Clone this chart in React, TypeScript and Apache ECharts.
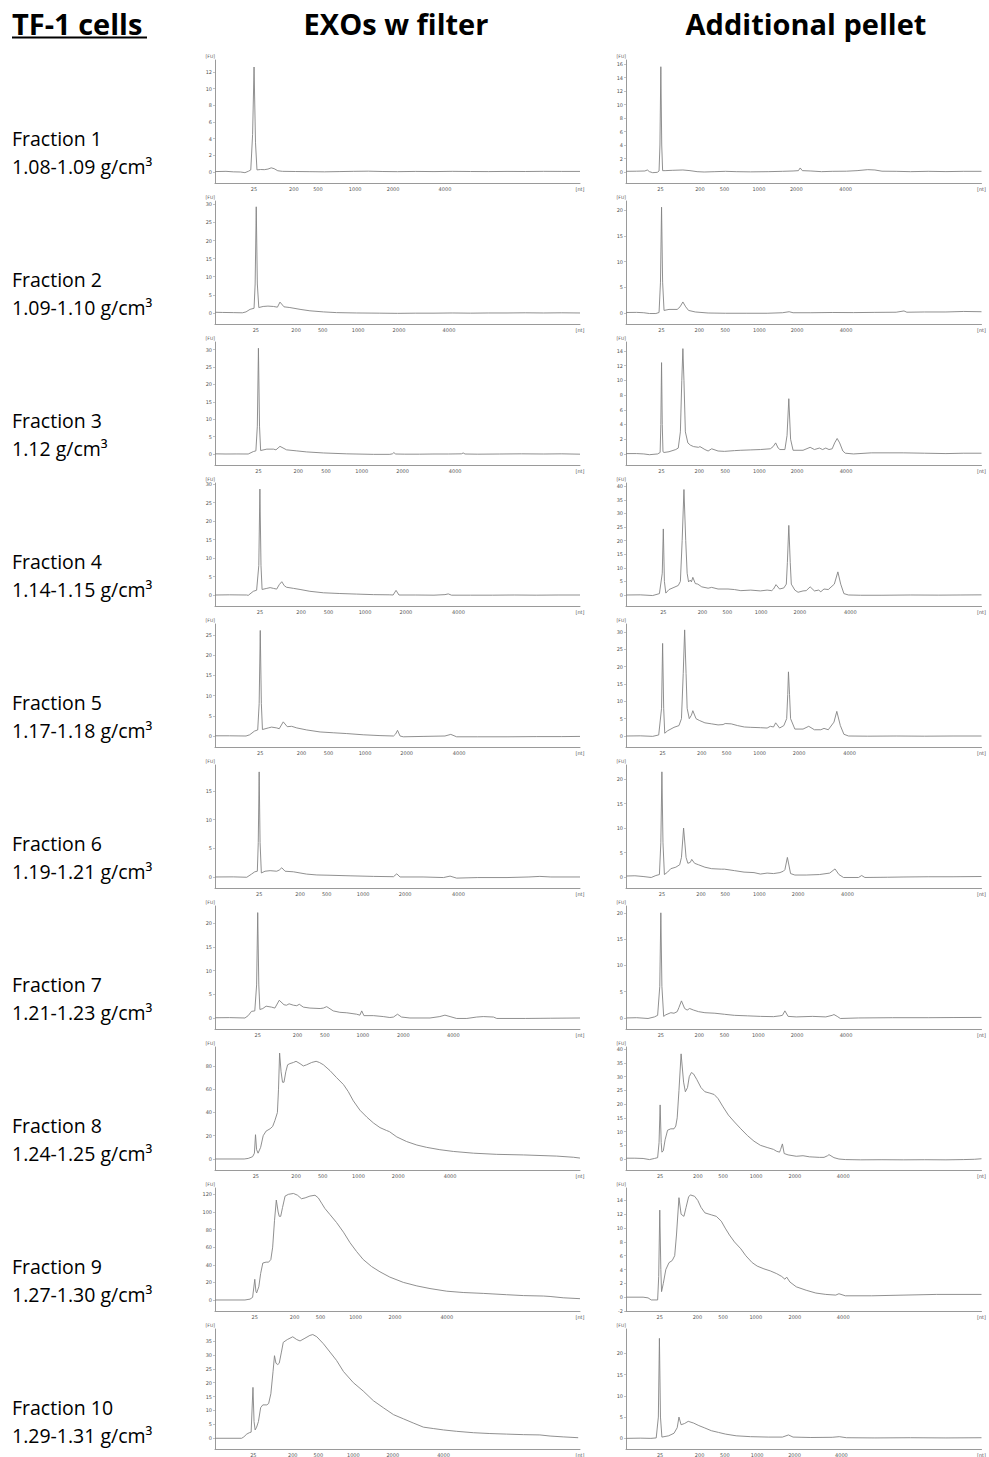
import React, { useEffect, useRef } from "react";
import * as echarts from "echarts";

// ---------- labels ----------
const ladderLabels = ["25", "200", "500", "1000", "2000", "4000", "[nt]"];
const fractionNames = ["Fraction 1", "Fraction 2", "Fraction 3", "Fraction 4", "Fraction 5", "Fraction 6", "Fraction 7", "Fraction 8", "Fraction 9", "Fraction 10"];
const densities = ["1.08-1.09 g/cm³", "1.09-1.10 g/cm³", "1.12 g/cm³", "1.14-1.15 g/cm³", "1.17-1.18 g/cm³", "1.19-1.21 g/cm³", "1.21-1.23 g/cm³", "1.24-1.25 g/cm³", "1.27-1.30 g/cm³", "1.29-1.31 g/cm³"];
const headers = ["TF-1 cells", "EXOs w filter", "Additional pellet"];

// ladder (size marker) positions on the time axis (0..100) per row
const exoLadder = [
  [10.7, 21.6, 28.2, 38.4, 48.8, 63.0],
  [11.2, 22.2, 29.5, 39.2, 50.4, 64.1],
  [11.9, 22.8, 30.4, 40.2, 51.4, 65.8],
  [12.3, 23.6, 31.1, 41.1, 52.3, 66.7],
  [12.4, 23.7, 31.1, 41.1, 52.5, 66.9],
  [12.1, 23.3, 30.6, 40.6, 52.1, 66.7],
  [11.7, 22.6, 30.1, 40.5, 51.6, 65.3],
  [11.2, 22.2, 29.5, 39.3, 50.2, 64.4],
  [10.9, 21.8, 28.9, 38.5, 49.3, 63.5],
  [10.5, 21.3, 28.3, 37.9, 48.7, 62.6],
];
const pelLadder = [
  [9.7, 20.8, 27.7, 37.4, 47.9, 61.8],
  [10.0, 20.6, 27.9, 37.5, 48.1, 61.9],
  [10.0, 20.6, 27.9, 37.5, 48.1, 61.9],
  [10.5, 21.5, 28.5, 38.0, 48.9, 63.1],
  [10.3, 21.3, 28.3, 37.6, 48.7, 62.9],
  [10.1, 21.1, 27.9, 37.5, 48.4, 62.3],
  [9.8, 20.6, 27.7, 37.2, 48.1, 61.9],
  [9.6, 20.2, 27.3, 36.6, 47.5, 61.1],
  [9.5, 20.1, 27.3, 36.5, 47.5, 61.1],
  [9.6, 20.7, 27.8, 36.9, 47.4, 60.6],
];

// y axis ranges / ticks
const exoYMin = [-1.32, -3.04, -3.16, -2.98, -2.72, -1.92, -2.33, -9.46, -12.5, -3.86];
const exoYMax = [13.44, 30.9, 32.2, 30.35, 27.7, 19.5, 23.7, 96.3, 127.2, 39.3];
const exoYStep = [2, 5, 5, 5, 5, 5, 5, 20, 20, 5];
const exoYTop = [12, 30, 30, 30, 25, 15, 20, 80, 120, 35];
const exoYStart = [0, 0, 0, 0, 0, 0, 0, 0, 0, 0];
const pelYMin = [-1.63, -2.14, -1.5, -4.05, -3.17, -2.25, -2.1, -4.0, -2.0, -2.5];
const pelYMax = [16.6, 21.8, 15.2, 41.2, 32.3, 22.9, 21.3, 40.8, 15.8, 25.7];
const pelYStep = [2, 5, 2, 5, 5, 5, 5, 5, 2, 5];
const pelYTop = [16, 20, 14, 40, 30, 20, 20, 40, 14, 20];
const pelYStart = [0, 0, 0, 0, 0, 0, 0, 0, -2, 0];

// ---------- traces: [time, FU] ----------
const exo1 = [[0,0.05],[3,0.08],[5,0.02],[7,0.0],[8.2,-0.08],[9.2,0.1],[9.8,0.25],[10.3,4.5],[10.7,12.6],[11.1,3.5],[11.5,0.25],[12.5,0.3],[13.5,0.28],[14.5,0.35],[15.4,0.5],[16.2,0.4],[17.2,0.15],[18.5,0.08],[22,0.06],[26,0.04],[30,0.02],[34,0.05],[38,0.08],[42,0.1],[46,0.06],[50,0.04],[55,0.07],[60,0.05],[65,0.08],[70,0.06],[75,0.05],[80,0.07],[85,0.06],[90,0.08],[95,0.07],[100,0.07]];
const exo2 = [[0,0.2],[2,0.15],[5,0.1],[7.5,0.05],[8.5,0.3],[9.6,1.0],[10.7,1.3],[11.0,8],[11.3,29.3],[11.6,8],[12.0,1.5],[13.2,1.8],[14.5,1.9],[16.0,1.8],[17.1,1.6],[17.8,3.0],[18.9,1.7],[20.5,1.5],[23.3,1.0],[26.0,0.6],[29.7,0.3],[33.3,0.1],[38.8,0.0],[45,-0.05],[50,-0.1],[55,-0.05],[60,-0.05],[65,0.0],[70,-0.05],[75,0.0],[80,0.0],[85,0.05],[90,0.0],[95,0.05],[100,0.0]];
const exo3 = [[0,0.05],[3,0.0],[6,0.02],[9.1,0.0],[10.5,0.7],[11.2,0.9],[11.6,8],[11.9,30.4],[12.2,8],[12.5,1.0],[14.2,1.4],[16.0,1.4],[16.7,1.2],[17.8,2.2],[19.6,1.2],[22.4,0.9],[25.1,0.6],[29.7,0.3],[36.1,0.05],[43.4,-0.1],[47.9,-0.1],[48.6,0.05],[49.0,0.4],[49.5,0.0],[52,-0.05],[56,-0.05],[60,0.0],[64,0.0],[67.5,0.05],[68,0.3],[68.5,0.0],[72,-0.05],[78,0.0],[84,0.05],[90,0.0],[95,0.05],[100,-0.05]];
const exo4 = [[0,0.0],[4,0.05],[8.7,0.0],[9.1,-0.1],[10.5,1.0],[11.4,1.3],[12.0,8],[12.3,28.7],[12.6,8],[12.9,1.5],[14.2,1.8],[15.1,2.0],[16.0,1.8],[16.9,1.6],[17.6,2.8],[18.3,3.6],[19.0,2.5],[19.6,2.1],[21.5,1.8],[23.3,1.5],[26.0,1.0],[29.7,0.6],[34.2,0.4],[38.8,0.25],[43.4,0.1],[47.9,0.05],[48.8,0.0],[49.6,1.25],[50.4,0.0],[55,0.0],[60,-0.05],[63,0.1],[63.9,0.3],[64.8,-0.05],[70,-0.05],[76,-0.05],[82,0.0],[88,-0.05],[94,0.0],[100,0.0]];
const exo5 = [[0,0.05],[4,0.05],[8.5,0.0],[9.5,0.3],[10.8,1.2],[11.7,1.5],[12.1,8],[12.4,26.1],[12.7,8],[13.0,1.6],[14.6,2.0],[15.5,2.2],[16.9,2.0],[17.6,1.8],[18.7,3.5],[19.8,2.3],[21.0,2.4],[22.4,2.0],[25.1,1.5],[28.8,1.0],[32.4,0.8],[36.1,0.6],[40.6,0.3],[45.2,0.1],[48.9,0.0],[49.5,0.5],[50.0,1.4],[50.7,0.0],[51.6,-0.2],[57,-0.1],[63,0.0],[64.6,0.4],[66.2,-0.2],[72,-0.2],[80,-0.2],[88,-0.15],[95,-0.15],[100,-0.1]];
const exo6 = [[0,0.0],[5,0.02],[8.7,-0.05],[10.0,0.5],[10.9,0.9],[11.6,1.0],[11.85,6],[12.1,18.3],[12.35,6],[12.7,0.7],[13.7,1.0],[15.1,1.1],[16.9,1.0],[17.6,1.2],[18.3,1.6],[19.2,1.0],[21.5,0.9],[23.3,0.7],[25.1,0.5],[27.9,0.35],[31.5,0.3],[37,0.2],[43.4,0.1],[48.9,0.05],[49.8,0.55],[50.7,0.0],[57,0.0],[62.6,-0.1],[64.4,0.15],[66.2,-0.2],[72,-0.1],[80,-0.1],[86,0.0],[89,0.1],[92,0.0],[100,0.0]];
const exo7 = [[0,0.05],[4,0.08],[8.2,0.0],[9.1,0.5],[10.0,1.4],[10.9,1.5],[11.4,7],[11.7,22.3],[12.0,7],[12.3,1.8],[13.1,2.0],[14.0,2.5],[15.5,2.3],[16.4,2.1],[17.6,3.75],[18.9,2.8],[19.6,2.7],[20.3,3.0],[21.5,2.7],[22.4,2.6],[23.1,2.9],[24.2,2.3],[26.0,2.1],[28.8,2.0],[29.7,2.1],[30.6,2.4],[32.4,1.5],[34.2,1.2],[36.1,1.1],[38.8,0.8],[39.7,0.6],[40.2,1.5],[40.8,0.5],[43.4,0.5],[46.1,0.3],[47.9,0.1],[48.9,0.2],[50.0,0.8],[51.1,0.2],[53.4,0.0],[58.9,0.0],[61.6,0.3],[63.0,0.6],[64.4,0.3],[66.2,-0.1],[69,-0.1],[71.7,0.2],[73.5,0.3],[76.3,0.2],[77.2,-0.1],[85,-0.1],[92,-0.05],[100,0.0]];
const exo8 = [[0,0.0],[8,0.0],[9.1,0.5],[10.3,2],[10.8,5],[11.1,20.9],[11.4,8],[11.8,5],[12.5,10],[13.2,20],[14.0,24],[15.1,26],[15.8,28],[16.4,33],[17.1,40],[17.4,60],[17.7,91.1],[18.1,75],[18.5,66],[18.9,66],[19.4,75],[19.9,81],[20.5,82],[21.5,83],[22.2,84],[23.3,82],[24.2,80],[25.1,81],[26.5,83],[27.7,84],[28.6,83],[29.7,81],[31.5,76],[33.3,70],[35.2,64],[36.5,58],[37.9,50],[39.7,42],[41.6,36],[43.4,31],[45.2,27],[47.0,24.5],[47.8,23.5],[49.8,19],[52.5,15],[55.3,12],[58.0,10],[61.6,8],[65.3,6.5],[70.8,5],[77.2,4],[84.5,3.5],[93.6,2.5],[98.2,1.5],[100,0.8]];
const exo9 = [[0,0.0],[8.2,0.0],[9.6,1],[10.3,3],[10.9,23.5],[11.2,10],[11.4,8],[12.0,15],[12.5,30],[13.1,42],[14.0,43],[14.7,43],[15.3,46],[15.8,60],[16.3,90],[16.8,113.5],[17.3,100],[17.6,95],[18.0,95],[18.5,105],[19.2,118],[20.1,120],[21.5,121],[22.6,119],[23.7,115],[24.7,116],[26.0,118],[27.4,119],[28.3,116],[29.2,110],[30.1,104],[31.5,97],[33.3,88],[35.2,77],[37.0,65],[38.8,55],[40.6,46],[42.9,38],[45.2,32],[47.9,26],[51.6,20],[55.3,16],[58.9,13],[63.5,10],[68.0,8.5],[73.5,7.5],[79.9,6],[84.5,5],[90.0,4.5],[91.8,4],[95.4,2.5],[100,1.5]];
const exo10 = [[0,0.0],[7.3,0.0],[7.9,0.5],[8.7,1.5],[9.4,2],[9.9,2.2],[10.4,18.3],[10.7,6],[11.0,3],[11.4,4],[11.9,6],[12.5,11],[13.1,12],[14.2,12],[14.7,12.5],[15.3,16],[15.9,24],[16.3,29.7],[16.7,27],[17.2,26.5],[17.6,27],[18.2,31],[18.7,34.5],[19.8,35.5],[21.3,36.5],[22.4,35.5],[23.3,35],[24.4,35.8],[26.0,37],[26.8,37.3],[27.9,36.5],[29.7,34],[31.5,31],[33.3,28],[35.2,24],[37.9,20],[40.6,17],[43.4,13.5],[46.1,11],[48.9,8.5],[51.6,7],[54.3,5.5],[57.1,4],[59.8,3.5],[62.6,3],[66.2,2.5],[70.8,2.0],[75.3,1.7],[79.9,1.5],[84.5,1.3],[89.0,1.2],[91.8,0.8],[95.4,0.5],[99.5,0.2]];

const pel1 = [[0,0.1],[3,0.12],[5.3,0.15],[6,0.3],[6.6,0.05],[7.5,-0.1],[8.8,-0.05],[9.3,0.15],[9.55,4],[9.8,15.6],[10.05,4],[10.3,0.2],[11,0.2],[13,0.25],[16,0.3],[18,0.2],[20,0.05],[22,0.0],[25,0.05],[28,0.1],[31,0.05],[35,0.02],[40,0.05],[44,0.1],[47,0.15],[48.5,0.2],[49,0.6],[49.6,0.2],[52,0.15],[55,0.05],[58,0.1],[62,0.12],[65,0.2],[68,0.35],[70,0.3],[72,0.12],[76,0.1],[80,0.05],[85,0.1],[90,0.06],[95,0.1],[100,0.1]];
const pel2 = [[0,0.1],[3,0.12],[5,0.05],[6.6,-0.1],[8.4,-0.1],[9.3,0.1],[9.7,6],[10.0,20.6],[10.3,6],[10.7,0.5],[12.1,0.7],[14.4,0.7],[15.2,1.2],[16.0,2.15],[16.8,1.2],[17.6,0.5],[19.5,0.2],[23.1,0.0],[28,-0.05],[34,-0.05],[39.7,-0.05],[44,0.05],[45.9,0.25],[47,0.05],[52,0.05],[58,0.1],[64,0.08],[70,0.12],[76,0.15],[78.2,0.4],[79,0.15],[84,0.2],[90,0.2],[95,0.3],[100,0.25]];
const pel3 = [[0,0.05],[3,0.05],[5,0.0],[6.6,-0.1],[8.9,0.0],[9.6,0.2],[9.8,4],[10.0,12.4],[10.2,4],[10.4,0.3],[10.7,0.2],[12.1,0.3],[14.0,0.6],[14.7,0.8],[15.3,3],[15.7,10],[16.0,14.3],[16.3,10],[16.7,3],[17.4,1.5],[18.1,1.2],[19.0,1.0],[20.4,0.9],[20.8,1.0],[22.2,0.6],[23.1,0.4],[24.1,0.7],[25.9,0.4],[27.7,0.35],[30.5,0.45],[32.3,0.5],[35.1,0.55],[37.8,0.6],[40.6,0.7],[41.4,1.0],[42.1,1.5],[42.8,0.8],[43.3,0.6],[44.7,0.6],[45.3,2.5],[45.8,7.5],[46.3,2.0],[47.0,0.5],[49.8,0.5],[51.8,0.9],[53.0,0.6],[54.4,0.8],[55.3,0.6],[56.2,0.8],[57.1,0.6],[58.0,0.7],[58.7,1.5],[59.4,2.1],[60.1,1.5],[61.0,0.4],[61.7,0.1],[64,0.0],[69,0.15],[74,0.15],[78,0.15],[84,0.1],[90,0.05],[95,0.1],[100,0.1]];
const pel4 = [[0,0.0],[4,0.05],[7.5,-0.2],[9.4,0.5],[10.2,8],[10.5,24.3],[10.8,5],[11.2,0.7],[12.1,2],[13.5,2.8],[14.7,3.5],[15.3,5],[15.8,20],[16.3,38.8],[16.8,20],[17.2,8],[17.6,4.8],[18.1,5.5],[18.4,4.8],[18.8,6.5],[19.5,4.2],[20.2,4],[21.3,3],[23.1,2.5],[24.1,2.8],[25.9,2.2],[28.7,2.2],[30.5,2.0],[32.3,1.6],[35.1,1.8],[37.8,1.5],[39.7,1.8],[41.0,1.6],[41.5,2.2],[42.2,3.8],[43.2,2.2],[44.4,2.6],[45.1,4],[45.4,12],[45.8,25.6],[46.2,12],[46.5,4],[47.5,1.8],[48.4,1.0],[49.8,1.5],[50.7,1.6],[51.8,3.0],[53.0,1.5],[54.2,1.8],[54.8,1.2],[55.7,2.2],[56.9,2.0],[58.6,4],[59.6,8.5],[60.4,4],[61.3,0.5],[62.6,0.0],[66,-0.1],[72,-0.1],[80,0.0],[88,-0.05],[94,0.0],[100,0.05]];
const pel5 = [[0,0.0],[4,0.05],[7.5,-0.1],[9.2,0.3],[10.0,8],[10.3,26.7],[10.6,8],[10.9,0.8],[11.7,1.5],[13.5,2.5],[14.9,3],[15.6,5],[16.1,18],[16.5,30.6],[16.9,18],[17.2,8],[17.8,5],[18.4,6],[18.8,7.3],[19.7,5],[20.6,4.5],[22.2,3.8],[24.1,3.5],[25.9,3.2],[27.3,3.3],[27.9,3.6],[29.6,3.5],[31.4,3.0],[33.3,2.6],[35.1,2.5],[37.8,2.4],[39.7,2.3],[40.6,2.8],[41.5,2.6],[42.1,3.8],[43.2,2.3],[44.4,3.0],[45.2,5],[45.5,12],[45.7,18.5],[46.0,12],[46.3,5],[47.5,2.0],[49.8,2.0],[51.4,2.8],[53.0,1.8],[54.8,1.8],[55.7,2.2],[56.9,1.8],[58.5,4],[59.3,7.1],[60.3,3],[61.3,0.5],[62.6,0.0],[68,-0.05],[76,0.0],[84,-0.05],[92,0.0],[100,0.0]];
const pel6 = [[0,0.2],[2.5,0.25],[4.8,0.1],[7.1,-0.1],[8.4,0.3],[9.4,0.5],[9.8,7],[10.1,21.5],[10.4,7],[10.8,0.5],[11.7,1.0],[12.6,1.7],[14.0,2.0],[15.1,2.5],[15.6,4],[16.2,10.0],[16.9,4],[17.4,2.8],[18.1,3.0],[18.5,3.6],[19.3,2.8],[20.4,2.5],[22.2,2.0],[24.1,1.7],[26.8,1.6],[27.7,1.6],[30.5,1.3],[33.2,1.0],[36.0,0.9],[37.8,0.6],[39.7,0.8],[41.5,0.7],[43.3,0.9],[44.3,1.2],[44.7,1.5],[45.4,4.0],[46.3,0.7],[47.5,0.4],[50.7,0.4],[54.4,0.5],[57.3,0.8],[58.8,1.65],[59.9,0.5],[61.2,-0.1],[65.4,-0.1],[66.3,0.3],[67.2,-0.1],[73.6,-0.05],[78.2,0.0],[85,0.05],[92,0.05],[100,0.1]];
const pel7 = [[0,0.0],[3,0.05],[6.2,-0.1],[8.0,0.2],[8.9,0.5],[9.5,6],[9.8,20.0],[10.1,6],[10.6,0.3],[11.2,0.6],[12.6,1.0],[13.5,0.9],[14.4,1.2],[14.9,2],[15.6,3.25],[16.5,1.8],[17.2,1.5],[17.9,1.8],[19.0,1.5],[20.4,1.2],[22.2,1.0],[25.0,0.9],[27.7,0.7],[30.5,0.5],[34.2,0.4],[37.8,0.3],[41.5,0.25],[43.3,0.4],[44.0,0.5],[44.7,1.35],[45.6,0.3],[47.9,0.2],[52.5,0.3],[56.2,0.2],[58.0,0.5],[58.5,0.65],[59.4,0.3],[60.3,-0.1],[65.4,0.0],[75,0.05],[85,0.05],[92,0.08],[100,0.1]];
const pel8 = [[0,0.3],[2.5,0.3],[4.8,0.2],[6.6,-0.2],[8.0,0.2],[8.9,0.5],[9.3,6],[9.6,19.7],[9.9,6],[10.1,2.5],[10.5,3],[11.0,7],[11.7,10.5],[12.6,11],[13.5,11],[14.0,12],[14.4,15],[14.9,25],[15.5,38.3],[16.2,28],[16.7,24.5],[17.3,26],[17.8,30],[18.4,31.5],[19.0,31],[19.9,29],[21.1,26],[22.2,24.5],[23.6,24],[24.8,23.5],[25.9,22],[27.3,19],[28.8,16],[30.5,13.5],[32.3,11],[34.2,8.5],[36.0,6.5],[37.8,5],[39.7,4.2],[41.5,3.5],[42.4,2.8],[43.2,2.5],[43.5,3.5],[44.0,5.5],[44.5,2],[45.6,1.5],[47.9,1.0],[49.8,1.2],[51.6,0.8],[54.4,0.6],[55.7,0.6],[56.7,1.2],[57.1,1.6],[58.5,0.5],[59.9,0.0],[61.7,-0.2],[66,-0.3],[72,-0.25],[78,-0.3],[84,-0.25],[90,-0.3],[95,-0.2],[98,-0.1],[100,0.1]];
const pel9 = [[0,0.0],[4.8,0.0],[6.2,-0.1],[7.1,-0.4],[8.9,-0.4],[9.2,3],[9.5,12.6],[9.8,4],[10.0,0.8],[10.5,2],[11.2,4],[12.1,5],[13.0,5.3],[13.7,6],[14.2,9],[14.9,14.4],[15.5,12],[16.3,11.7],[16.9,13],[17.6,14.5],[18.1,14.8],[19.3,14.6],[20.2,14],[21.1,13],[22.2,12.2],[24.1,11.9],[25.4,11.7],[26.8,11],[27.9,10],[29.1,9],[30.5,8],[32.3,7],[33.7,6],[35.5,5],[36.9,4.5],[38.8,4.1],[40.6,3.8],[42.4,3.4],[43.8,3.0],[44.7,2.6],[45.2,2.9],[46.1,2.2],[47.9,1.5],[50.7,1.0],[53.4,0.6],[56.2,0.4],[59.0,0.3],[59.9,0.5],[61.7,0.2],[69.1,0.2],[78.2,0.3],[87.4,0.4],[100,0.4]];
const pel10 = [[0,0.0],[4,0.05],[7,0.0],[8.5,0.1],[9.1,5],[9.4,23.5],[9.7,5],[10.1,0.3],[12,0.6],[13.5,1.2],[14.4,2.5],[14.9,5],[15.5,3.2],[16.5,3.5],[17.5,4],[19,3.6],[20.5,3],[22,2.5],[24,1.8],[26,1.4],[28,1.0],[31,0.6],[35,0.4],[40,0.3],[44,0.3],[45.7,0.8],[47,0.3],[52,0.2],[58,0.25],[60,0.4],[62,0.15],[70,0.1],[80,0.15],[90,0.1],[100,0.15]];

const exoTraces = [exo1, exo2, exo3, exo4, exo5, exo6, exo7, exo8, exo9, exo10];
const pelTraces = [pel1, pel2, pel3, pel4, pel5, pel6, pel7, pel8, pel9, pel10];

// ---------- layout ----------
const W = 989;
const H = 1457;
const ROW_H = 141;
const PLOT_TOP = 60;
const PLOT_H = 123;
const COLS = [
  { left: 215, width: 365 },
  { left: 626, width: 363 },
];
const FONT = '"Open Sans", "Noto Sans", sans-serif';
const AXIS_COLOR = "#9a9a9a";
const LABEL_COLOR = "#555";
const TRACE_COLOR = "#838383";

function ticks(start: number, step: number, top: number) {
  const out: number[] = [];
  for (let v = start; v <= top + 1e-9; v += step) out.push(Math.round(v * 1000) / 1000);
  return out;
}

function buildOption() {
  const grid: any[] = [];
  const xAxis: any[] = [];
  const yAxis: any[] = [];
  const series: any[] = [];
  let idx = 0;
  for (let r = 0; r < 10; r++) {
    for (let c = 0; c < 2; c++) {
      const col = COLS[c];
      const ladder = (c === 0 ? exoLadder : pelLadder)[r];
      const xVals = [...ladder, 100];
      const yMin = (c === 0 ? exoYMin : pelYMin)[r];
      const yMax = (c === 0 ? exoYMax : pelYMax)[r];
      const yT = c === 0
        ? ticks(exoYStart[r], exoYStep[r], exoYTop[r])
        : ticks(pelYStart[r], pelYStep[r], pelYTop[r]);
      const trace = (c === 0 ? exoTraces : pelTraces)[r];
      grid.push({ left: col.left, top: PLOT_TOP + r * ROW_H, width: col.width, height: PLOT_H, containLabel: false });
      xAxis.push({
        gridIndex: idx,
        type: "value",
        min: 0,
        max: 100,
        position: "bottom",
        axisLine: { show: true, onZero: false, lineStyle: { color: AXIS_COLOR, width: 1 } },
        axisTick: { show: false },
        axisLabel: {
          show: true,
          customValues: xVals,
          fontSize: 5,
          color: LABEL_COLOR,
          margin: 3,
          fontFamily: "DejaVu Sans",
          formatter: (v: number) => {
            let best = 0;
            let bd = 1e9;
            xVals.forEach((p, i) => {
              const d = Math.abs(p - v);
              if (d < bd) { bd = d; best = i; }
            });
            return ladderLabels[best];
          },
        },
        splitLine: { show: false },
      });
      yAxis.push({
        gridIndex: idx,
        type: "value",
        min: yMin,
        max: yMax,
        name: "[FU]",
        nameLocation: "end",
        nameGap: 1,
        nameTextStyle: { fontSize: 4.5, color: LABEL_COLOR, align: "right", verticalAlign: "bottom", fontFamily: "DejaVu Sans" },
        axisLine: { show: true, onZero: false, lineStyle: { color: AXIS_COLOR, width: 1 } },
        axisTick: { show: true, customValues: yT, length: 2, lineStyle: { color: AXIS_COLOR, width: 0.6 } },
        axisLabel: { show: true, customValues: yT, fontSize: 5, color: LABEL_COLOR, margin: 3, fontFamily: "DejaVu Sans" },
        splitLine: { show: false },
      });
      series.push({
        type: "line",
        xAxisIndex: idx,
        yAxisIndex: idx,
        data: trace,
        showSymbol: false,
        symbol: "none",
        smooth: false,
        lineStyle: { color: TRACE_COLOR, width: 0.9 },
        silent: true,
      });
      idx++;
    }
  }

  const graphic: any[] = [];
  graphic.push({
    type: "text", x: 12, y: 23,
    style: { text: headers[0], fontSize: 29, fontWeight: "bold", fontFamily: FONT, fill: "#000", align: "left", verticalAlign: "middle" },
  });
  graphic.push({ type: "line", shape: { x1: 12, y1: 37.5, x2: 147, y2: 37.5 }, style: { stroke: "#000", lineWidth: 2 } });
  graphic.push({
    type: "text", x: 396, y: 23,
    style: { text: headers[1], fontSize: 29, fontWeight: "bold", fontFamily: FONT, fill: "#000", align: "center", verticalAlign: "middle" },
  });
  graphic.push({
    type: "text", x: 806, y: 23,
    style: { text: headers[2], fontSize: 29, fontWeight: "bold", fontFamily: FONT, fill: "#000", align: "center", verticalAlign: "middle" },
  });
  for (let r = 0; r < 10; r++) {
    graphic.push({
      type: "text", x: 12, y: 138 + r * ROW_H,
      style: { text: fractionNames[r], fontSize: 19.5, fontFamily: FONT, fill: "#000", align: "left", verticalAlign: "middle" },
    });
    graphic.push({
      type: "text", x: 12, y: 166 + r * ROW_H,
      style: { text: densities[r], fontSize: 19.5, fontFamily: FONT, fill: "#000", align: "left", verticalAlign: "middle" },
    });
  }

  return {
    animation: false,
    backgroundColor: "#ffffff",
    grid,
    xAxis,
    yAxis,
    series,
    graphic,
  };
}

export default function App() {
  const ref = useRef<HTMLDivElement>(null);
  useEffect(() => {
    document.body.style.margin = "0";
    if (!ref.current) return;
    const chart = echarts.init(ref.current, undefined, { renderer: "svg", width: W, height: H });
    chart.setOption(buildOption() as any);
    return () => chart.dispose();
  }, []);
  return <div ref={ref} style={{ width: W, height: H, background: "#fff" }} />;
}
